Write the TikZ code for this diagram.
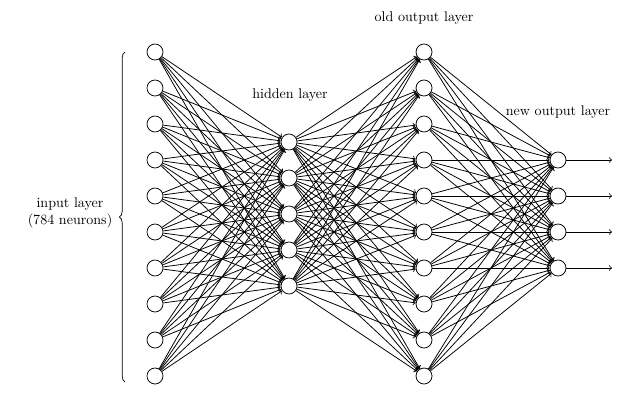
\documentclass[tikz,border=0pt]{standalone}
\usepackage{tikz}
\usetikzlibrary{positioning,decorations.pathreplacing}

\begin{document}
\begin{tikzpicture}[
  x=0.025cm, y=-0.025cm,
  neuron/.style={draw, circle, minimum size=0.4cm, inner sep=0pt,
                 line width=0.55pt, fill=white},
  conn/.style={->, line width=0.55pt},
  lbl/.style={align=center, font=\normalsize},
  brc/.style={decorate, decoration={brace, amplitude=4pt}, line width=0.5pt},
]
\useasboundingbox (0,0) rectangle (636,394);

%% Layers
\foreach \i in {1,...,10}
  \node[neuron] (I-\i) at (155, 52+36*\i-36) {};
\foreach \i in {1,...,5}
  \node[neuron] (H-\i) at (289, 142+36*\i-36) {};
\foreach \i in {1,...,10}
  \node[neuron] (O-\i) at (424, 52+36*\i-36) {};
\foreach \i in {1,...,4}
  \node[neuron] (N-\i) at (558, 160+36*\i-36) {};

%% Connections
\foreach \i in {1,...,10}
  \foreach \j in {1,...,5}
    \draw[conn] (I-\i) -- (H-\j);
\foreach \i in {1,...,5}
  \foreach \j in {1,...,10}
    \draw[conn] (H-\i) -- (O-\j);
\foreach \i in {1,...,10}
  \foreach \j in {1,...,4}
    \draw[conn] (O-\i) -- (N-\j);

%% Outputs
\foreach \i in {1,...,4} {
  \coordinate (out-\i) at (612, 160+36*\i-36);
  \draw[conn] (N-\i) -- (out-\i);
}

%% Labels
\node[lbl] (lblold) at (424,18) {old output layer};
\node[lbl] (lblhid) at (290,95) {hidden layer};
\node[lbl] (lblnew) at (558,112) {new output layer};
\node[lbl] (lblin) at (70,213) {input layer\\(784 neurons)};

%% Brace
\coordinate (brtop) at (125,52);
\coordinate (brbot) at (125,382);
\draw[brc] (brbot) -- (brtop);

\end{tikzpicture}
\end{document}
